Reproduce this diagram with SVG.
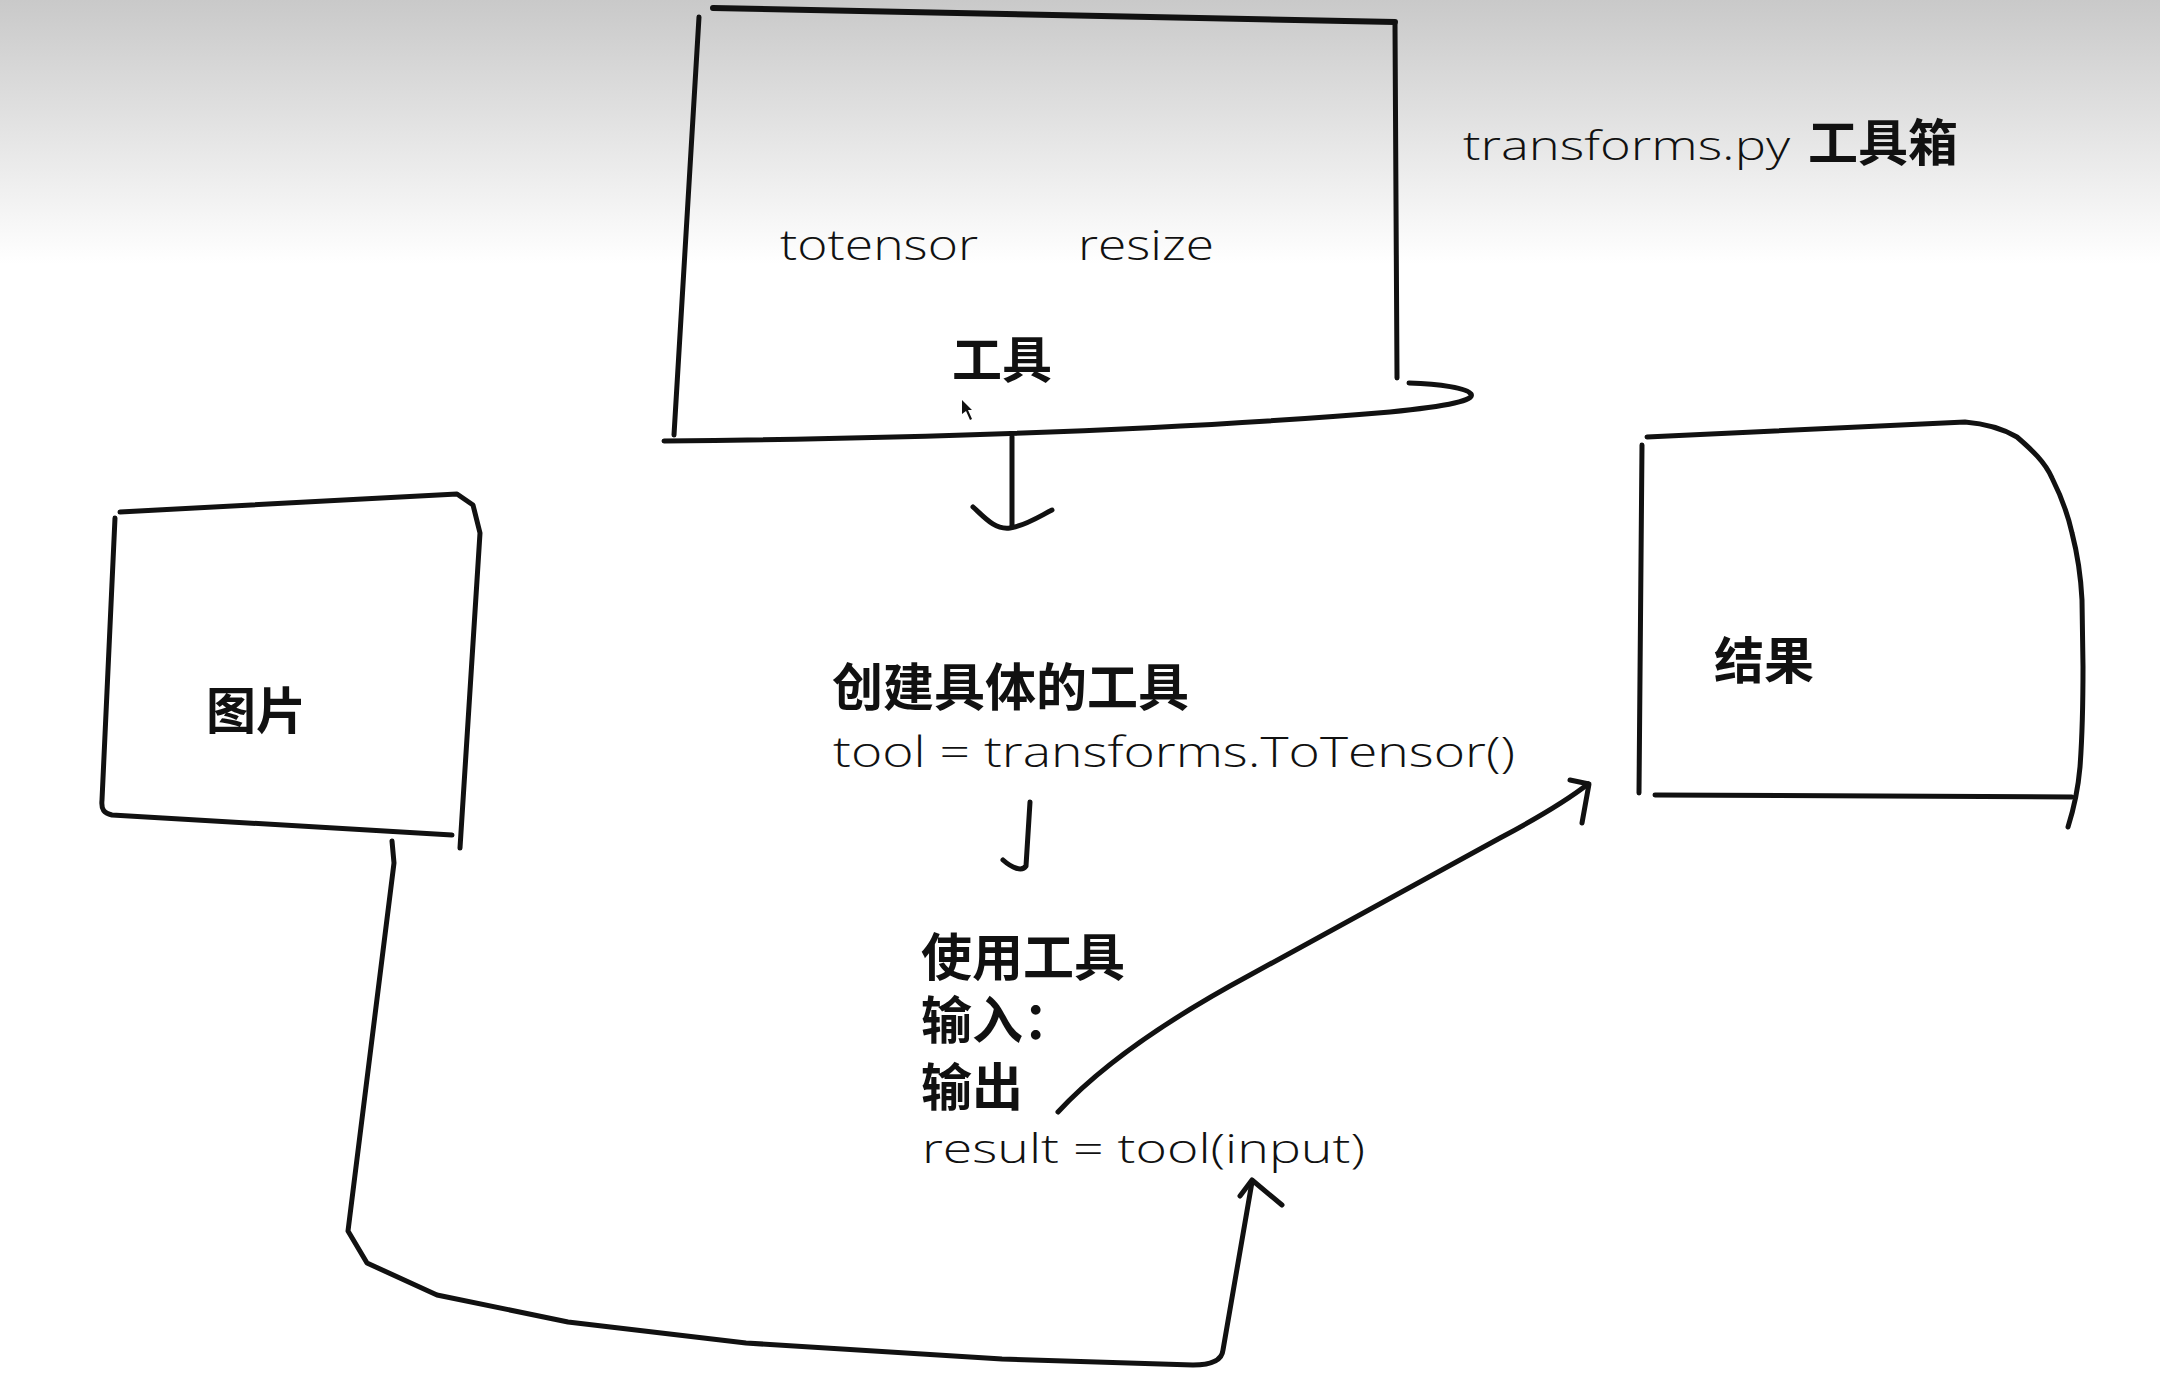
<svg xmlns="http://www.w3.org/2000/svg" width="2160" height="1390" viewBox="0 0 2160 1390">
  <defs>
    <linearGradient id="bg" x1="0" y1="0" x2="0" y2="1390" gradientUnits="userSpaceOnUse">
      <stop offset="0" stop-color="#c9c9c9"/>
      <stop offset="0.19" stop-color="#ffffff"/>
      <stop offset="1" stop-color="#ffffff"/>
    </linearGradient>
  </defs>
  <style>
    .ln { fill: none; stroke: #111; stroke-width: 5; stroke-linecap: round; stroke-linejoin: round; }
    .hand { font-family: "Open Sans", "DejaVu Sans", sans-serif; font-weight: 300; fill: #111; }
    .cjk { font-family: "Noto Sans CJK SC", "Noto Sans", sans-serif; font-weight: 700; fill: #111; }
  </style>
  <rect x="0" y="0" width="2160" height="1390" fill="url(#bg)"/>

  <g id="toolbox">
    <path class="ln" d="M713,8 L1395,22" style="stroke-width:6"/>
    <path class="ln" d="M699,17 L674,435"/>
    <path class="ln" d="M1395,24 L1397,378"/>
    <path class="ln" d="M664,441 C950,438 1200,428 1390,412 C1450,406 1475,400 1471,394 C1467,388 1440,384 1409,383"/>
    <text class="hand" x="780" y="260" font-size="42" textLength="198" lengthAdjust="spacingAndGlyphs">totensor</text>
    <text class="hand" x="1078" y="260" font-size="42" textLength="136" lengthAdjust="spacingAndGlyphs">resize</text>
    <text class="cjk" x="952" y="378" font-size="50">工具</text>
    <path d="M962,400 L962,414 L966,411 L970,420 L972,419 L968,410 L972,410 Z" fill="#111"/>
  </g>

  <g id="title">
    <text class="hand" x="1463" y="160" font-size="40" textLength="327" lengthAdjust="spacingAndGlyphs">transforms.py</text>
    <text class="cjk" x="1808" y="161" font-size="50">工具箱</text>
  </g>

  <g id="picture">
    <path class="ln" d="M120,512 L457,494 L473,505 L480,533 L460,848"/>
    <path class="ln" d="M115,518 L102,800 C101,810 104,813 112,815 L452,835"/>
    <text class="cjk" x="206" y="729" font-size="50">图片</text>
  </g>

  <g id="result">
    <path class="ln" d="M1647,437 L1965,422 C1990,424 2005,430 2017,437 C2032,450 2045,462 2052,478 C2062,498 2068,515 2072,533 C2079,560 2081,580 2082,600 L2083,667 C2083,710 2082,740 2080,767 C2078,790 2074,808 2068,827"/>
    <path class="ln" d="M1642,445 L1639,793"/>
    <path class="ln" d="M1655,795 L2072,797"/>
    <text class="cjk" x="1714" y="679" font-size="50">结果</text>
  </g>

  <g id="create-tool">
    <text class="cjk" x="832" y="706" font-size="51">创建具体的工具</text>
    <text class="hand" x="833" y="767" font-size="42" textLength="682" lengthAdjust="spacingAndGlyphs">tool = transforms.ToTensor()</text>
  </g>

  <g id="use-tool">
    <text class="cjk" font-size="51"><tspan x="921" y="976">使用工具</tspan><tspan x="921" y="1039">输入：</tspan><tspan x="921" y="1106">输出</tspan></text>
    <text class="hand" x="922" y="1163" font-size="40" textLength="443" lengthAdjust="spacingAndGlyphs">result = tool(input)</text>
  </g>

  <g id="connectors">
    <path class="ln" d="M1012,437 L1012,527"/>
    <path class="ln" d="M973,507 C985,518 995,530 1010,528 C1025,526 1040,516 1052,510"/>
    <path class="ln" d="M1030,802 L1026,866 C1022,872 1012,868 1003,860"/>
    <path class="ln" d="M392,841 L394,863 L348,1231 L367,1263 L437,1295 L568,1322 L746,1343 L1002,1359 L1193,1365 C1212,1365 1222,1360 1223,1350 L1252,1182"/>
    <path class="ln" d="M1240,1196 L1252,1180 L1282,1205"/>
    <path class="ln" d="M1058,1112 Q1120,1045 1250,975 L1500,838 Q1560,806 1588,784"/>
    <path class="ln" d="M1570,780 L1589,784 L1582,823"/>
  </g>
</svg>
